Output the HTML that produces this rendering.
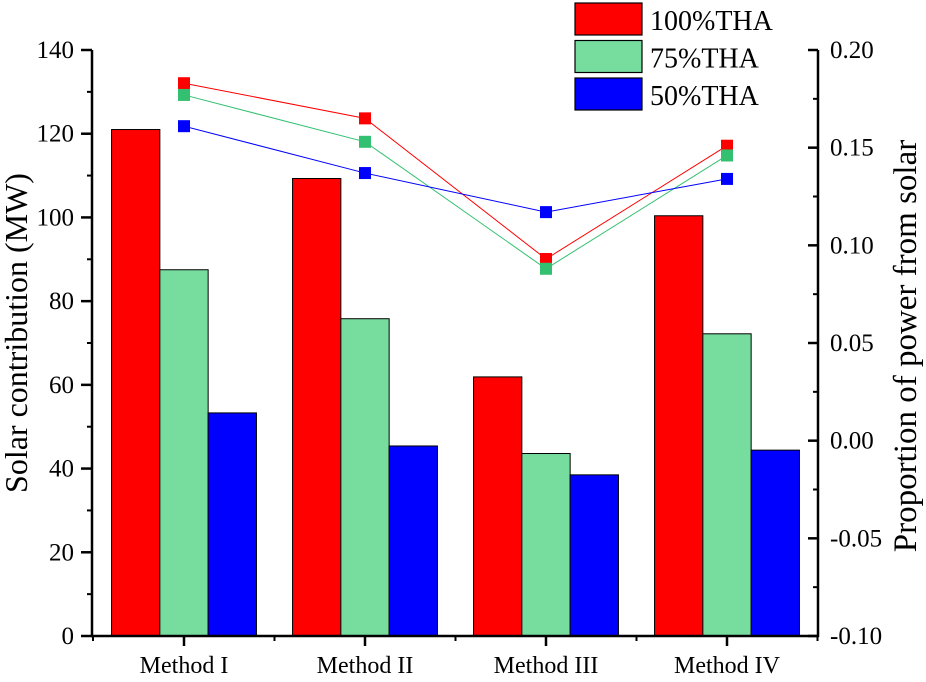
<!DOCTYPE html>
<html><head><meta charset="utf-8"><style>
body{margin:0;background:#fff}
text{font-family:"Liberation Serif",serif;fill:#000}
</style></head><body>
<svg id="chart" width="926" height="677" xmlns="http://www.w3.org/2000/svg"></svg>
<script>
const categories=["Method I","Method II","Method III","Method IV"];
const series=["100%THA","75%THA","50%THA"];
const bar100=[121,109.3,61.9,100.4];
const bar75=[87.5,75.8,43.6,72.2];
const bar50=[53.3,45.4,38.5,44.4];
const prop100=[0.183,0.165,0.093,0.151];
const prop75=[0.177,0.153,0.088,0.146];
const prop50=[0.161,0.137,0.117,0.134];
const leftTicks=[0,20,40,60,80,100,120,140];
const rightTicks=[-0.10,-0.05,0.00,0.05,0.10,0.15,0.20];
const barColors=["#ff0000","#77dd9f","#0000ff"];
const lineColors=["#ff0000","#33c070","#0000ff"];
const X0=92,X1=818,Y0=636,Y1=50;
const yL=v=>Y0-(v/140)*(Y0-Y1);
const yR=v=>Y0-((v+0.1)/0.3)*(Y0-Y1);
const cx=i=>184+i*181;
const svg=document.getElementById('chart');
const NS="http://www.w3.org/2000/svg";
function mk(t,a,p){const e=document.createElementNS(NS,t);for(const k in a)e.setAttribute(k,a[k]);(p||svg).appendChild(e);return e;}
const bars=[bar100,bar75,bar50];const props=[prop100,prop75,prop50];
const bw=48.3;
bars.forEach((arr,s)=>arr.forEach((v,i)=>{
 const r=mk('rect',{x:cx(i)-bw*1.5+s*bw,y:yL(v),width:bw,height:Y0-yL(v),fill:barColors[s],stroke:'#000','stroke-width':1});
 
 
}));
props.forEach((arr,s)=>{
 const pl=mk('polyline',{points:arr.map((v,i)=>cx(i)+','+yR(v)).join(' '),fill:'none',stroke:lineColors[s],'stroke-width':1});
 
 
 arr.forEach((v,i)=>{const m=mk('rect',{x:cx(i)-6,y:yR(v)-6,width:12,height:12,fill:lineColors[s]});
  
  });
});
// axes
mk('line',{x1:X0,y1:Y1,x2:X0,y2:Y0+1,stroke:'#000','stroke-width':2.5});
mk('line',{x1:X1,y1:Y1,x2:X1,y2:Y0+1,stroke:'#000','stroke-width':2.5});
mk('line',{x1:X0-1,y1:Y0,x2:X1+1,y2:Y0,stroke:'#000','stroke-width':2.5});
leftTicks.forEach(v=>{const y=yL(v);mk('line',{x1:X0-11,y1:y,x2:X0,y2:y,stroke:'#000','stroke-width':2.5});
 if(v<140)mk('line',{x1:X0-5,y1:yL(v+10),x2:X0,y2:yL(v+10),stroke:'#000','stroke-width':2});
 const t=mk('text',{x:X0-18,y:y+8,'text-anchor':'end','font-size':25});t.textContent=v;
 });
rightTicks.forEach(v=>{const y=yR(v);mk('line',{x1:X1-10,y1:y,x2:X1,y2:y,stroke:'#000','stroke-width':2.5});
 if(v<0.19)mk('line',{x1:X1-5,y1:yR(v+0.025),x2:X1,y2:yR(v+0.025),stroke:'#000','stroke-width':2});
 const t=mk('text',{x:X1+12,y:y+8,'font-size':25});t.textContent=v.toFixed(2);
 });
categories.forEach((c,i)=>{mk('line',{x1:cx(i),y1:Y0,x2:cx(i),y2:Y0+10,stroke:'#000','stroke-width':2.5});
 mk('line',{x1:cx(i)+90.5,y1:Y0,x2:cx(i)+90.5,y2:Y0+5,stroke:'#000','stroke-width':2});
 const t=mk('text',{x:cx(i),y:Y0+37,'text-anchor':'middle','font-size':24});t.textContent=c;
 });
mk('line',{x1:X0+1,y1:Y0,x2:X0+1,y2:Y0+5,stroke:'#000','stroke-width':2});
const yt=mk('text',{x:0,y:0,'font-size':32,'text-anchor':'middle',transform:'translate(27,333) rotate(-90)'});yt.textContent='Solar contribution (MW)';

const yt2=mk('text',{x:0,y:0,'font-size':33,'text-anchor':'middle',transform:'translate(916,346) rotate(-90)'});yt2.textContent='Proportion of power from solar';

series.forEach((s,k)=>{const y=3+k*37.5;
 const r=mk('rect',{x:575,y:y,width:67,height:32,fill:barColors[k],stroke:'#000','stroke-width':1.2});
 
 const t=mk('text',{x:650,y:y+27,'font-size':28});t.textContent=s;
 });
</script>
</body></html>
